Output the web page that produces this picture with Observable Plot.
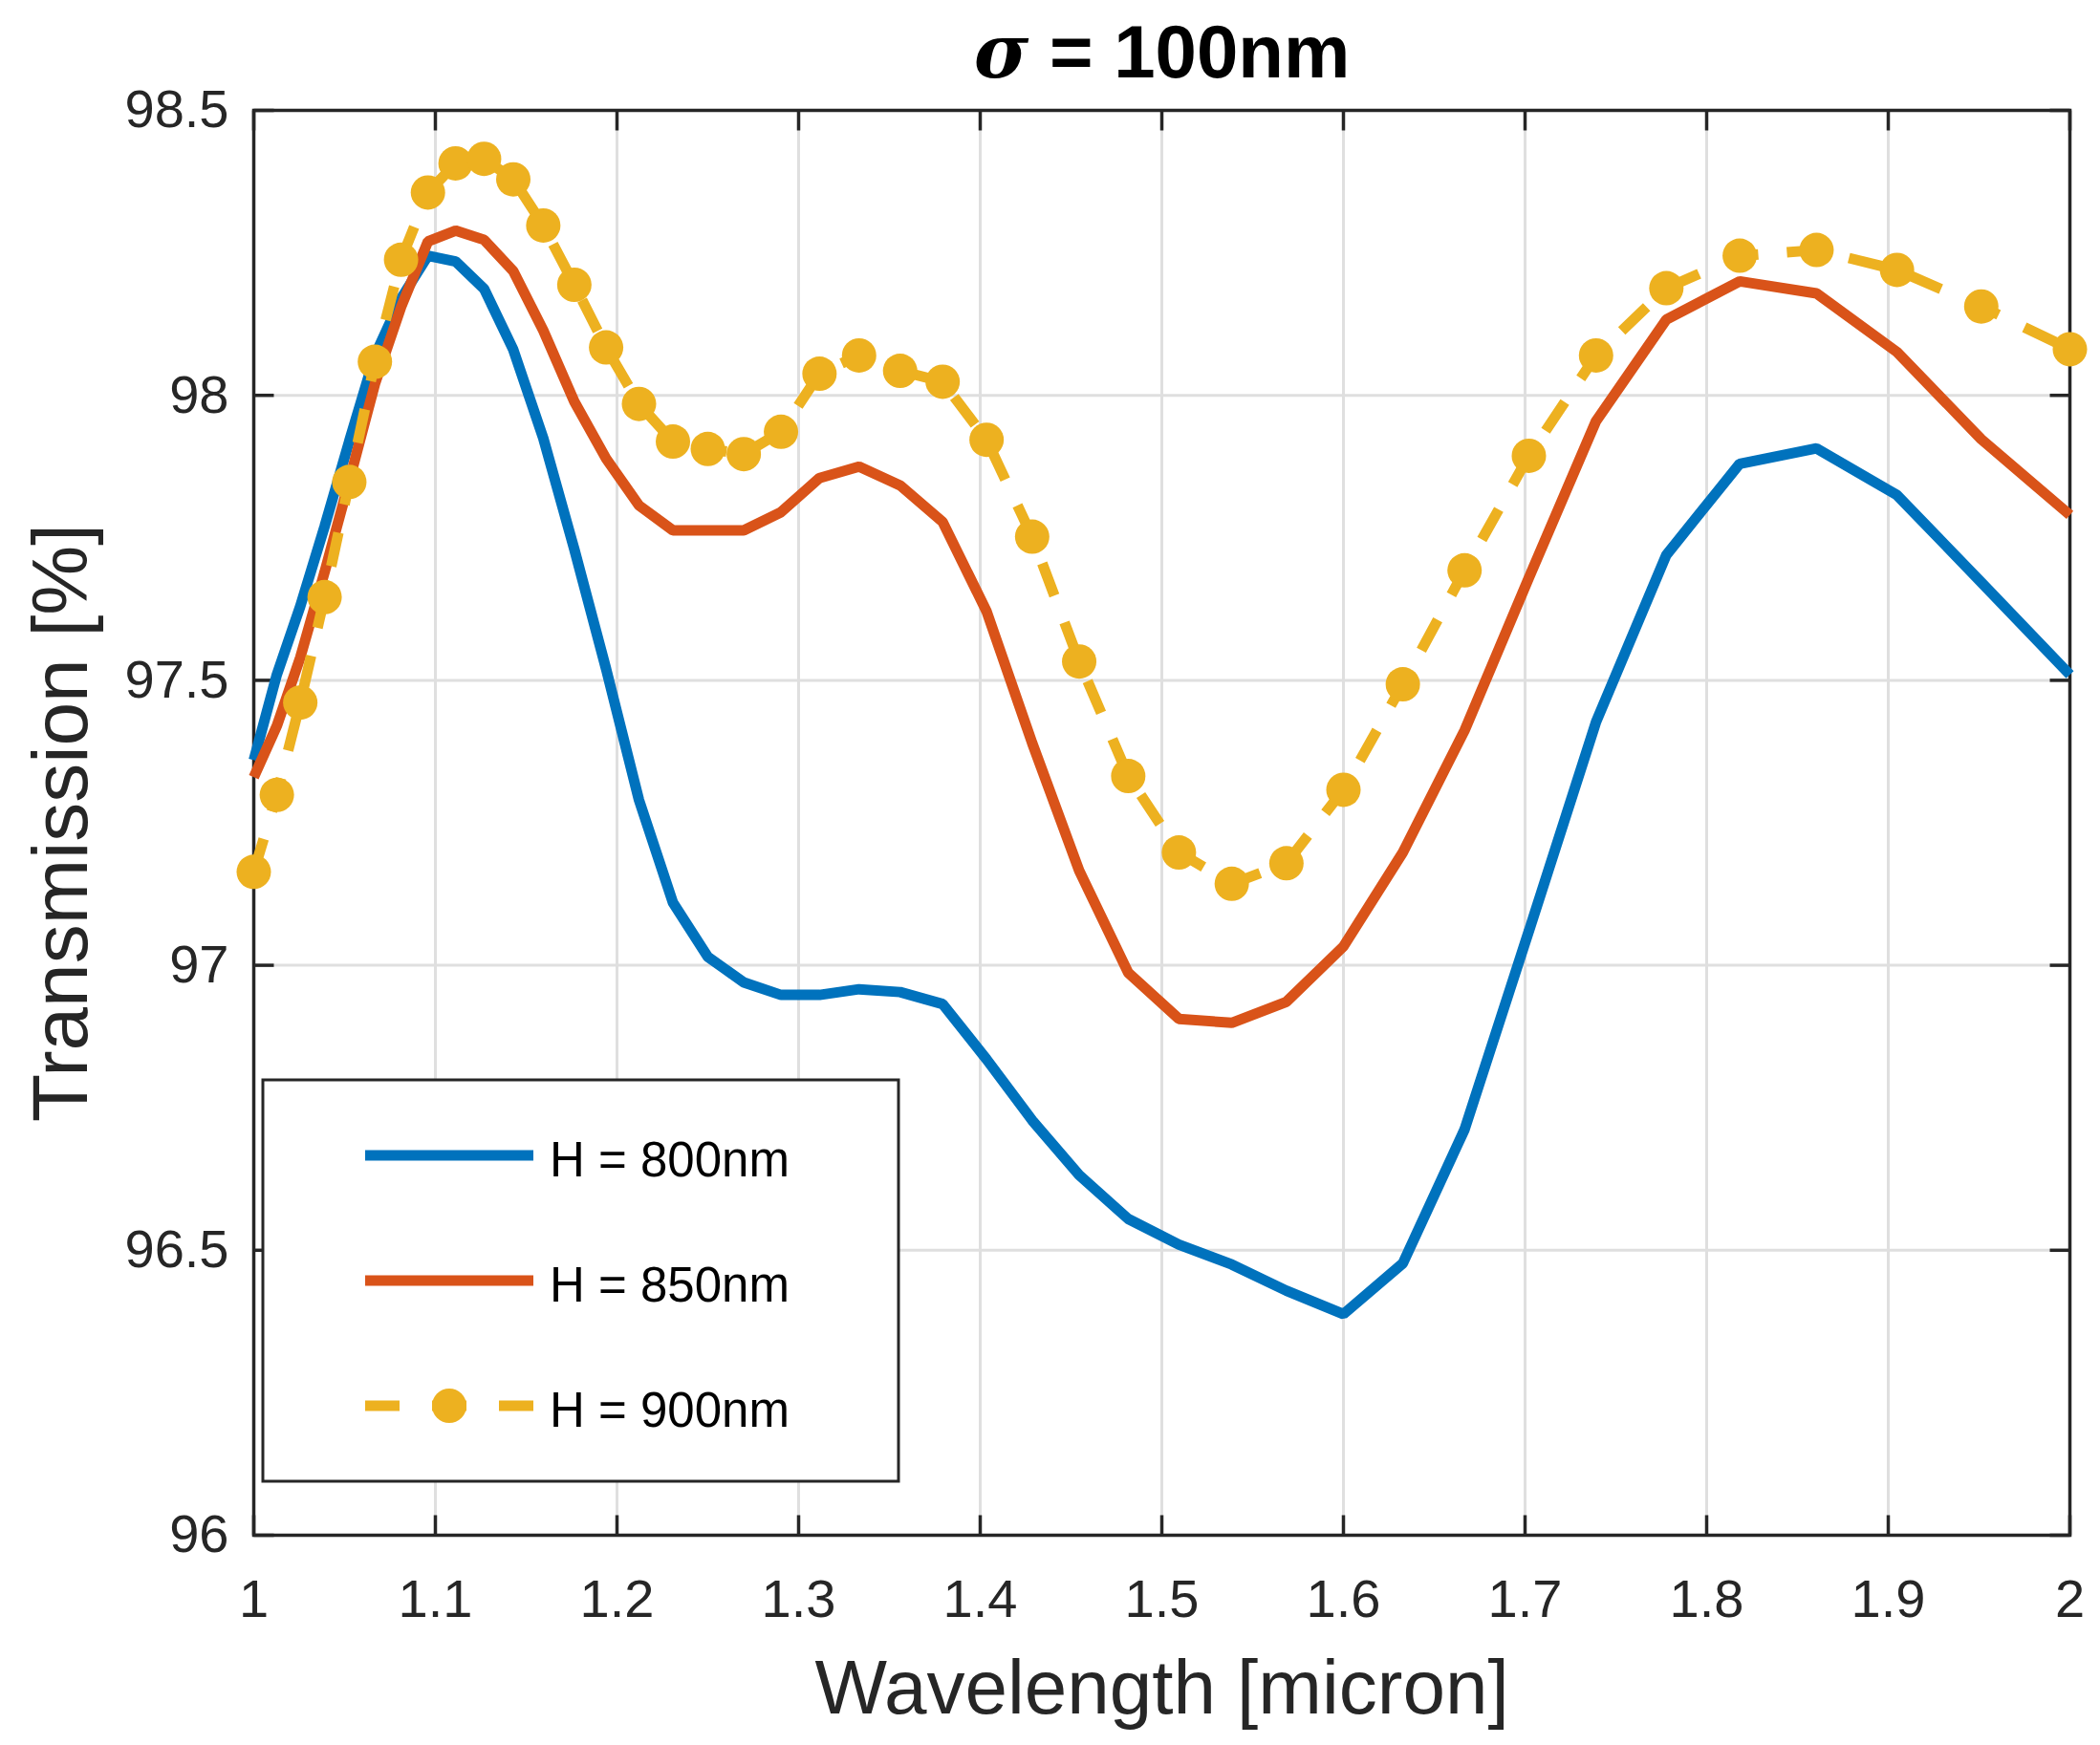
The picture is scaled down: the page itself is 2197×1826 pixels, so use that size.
<!DOCTYPE html>
<html>
<head>
<meta charset="utf-8">
<script src="https://cdn.jsdelivr.net/npm/d3@7"></script>
<script src="https://cdn.jsdelivr.net/npm/@observablehq/plot@0.6"></script>
<style>
  html, body { margin: 0; padding: 0; background: #fff; }
  #chart { width: 2197px; height: 1826px; }
</style>
</head>
<body>
<div id="chart"></div>
<script>
// ---- data ----
const wavelength = [1.0000, 1.0127, 1.0256, 1.0390, 1.0526, 1.0667, 1.0811, 1.0959, 1.1111, 1.1268,
  1.1429, 1.1594, 1.1765, 1.1940, 1.2121, 1.2308, 1.2500, 1.2698, 1.2903, 1.3115,
  1.3333, 1.3559, 1.3793, 1.4035, 1.4286, 1.4545, 1.4815, 1.5094, 1.5385, 1.5686,
  1.6000, 1.6327, 1.6667, 1.7021, 1.7391, 1.7778, 1.8182, 1.8605, 1.9048, 1.9512, 2.0000];

const h800 = [97.36, 97.51, 97.63, 97.77, 97.92, 98.07, 98.17, 98.245, 98.235, 98.187,
  98.08, 97.925, 97.73, 97.52, 97.29, 97.11, 97.015, 96.97, 96.948, 96.948,
  96.958, 96.953, 96.932, 96.835, 96.728, 96.632, 96.555, 96.51, 96.475, 96.429,
  96.388, 96.477, 96.712, 97.06, 97.427, 97.72, 97.88, 97.907, 97.825, 97.672, 97.51];

const h850 = [97.33, 97.42, 97.54, 97.69, 97.85, 98.02, 98.155, 98.27, 98.289, 98.273,
  98.218, 98.114, 97.989, 97.889, 97.807, 97.763, 97.763, 97.763, 97.795, 97.855,
  97.875, 97.842, 97.778, 97.621, 97.39, 97.166, 96.987, 96.906, 96.899, 96.936,
  97.033, 97.198, 97.412, 97.68, 97.955, 98.133, 98.2, 98.179, 98.076, 97.923, 97.79];

const h900 = [97.164, 97.299, 97.461, 97.646, 97.848, 98.059, 98.238, 98.356, 98.407, 98.415,
  98.379, 98.298, 98.194, 98.084, 97.985, 97.919, 97.906, 97.897, 97.936, 98.038,
  98.07, 98.043, 98.024, 97.922, 97.752, 97.533, 97.332, 97.198, 97.143, 97.179,
  97.308, 97.493, 97.693, 97.894, 98.07, 98.188, 98.245, 98.255, 98.22, 98.156, 98.081];

const seriesNames = ["H = 800nm", "H = 850nm", "H = 900nm"];
const seriesColors = ["#0072BD", "#D95319", "#EDB120"];

const xTicks = [1, 1.1, 1.2, 1.3, 1.4, 1.5, 1.6, 1.7, 1.8, 1.9, 2];
const xTickLabels = ["1", "1.1", "1.2", "1.3", "1.4", "1.5", "1.6", "1.7", "1.8", "1.9", "2"];
const yTicks = [96, 96.5, 97, 97.5, 98, 98.5];
const yTickLabels = ["96", "96.5", "97", "97.5", "98", "98.5"];

const titleText = "σ = 100nm";
const xLabelText = "Wavelength [micron]";
const yLabelText = "Transmission [%]";

// ---- build tables ----
const seriesValues = [h800, h850, h900];
const tables = seriesValues.map((vals, s) =>
  wavelength.map((w, i) => ({ w, t: vals[i], s: seriesNames[s] })));

const xFmt = new Map(xTicks.map((t, i) => [t, xTickLabels[i]]));
const yFmt = new Map(yTicks.map((t, i) => [t, yTickLabels[i]]));

const axisColor = "#262626";
const gridColor = "#dfdfdf";
const font = "'Liberation Sans', Arial, Helvetica, sans-serif";

// plain straight tick shape for inward ticks
const tickShape = { draw(context, l) { context.moveTo(0, 0); context.lineTo(0, -l); } };
const tickOpts = { length: 21, anchor: "start", shape: tickShape, stroke: axisColor, strokeWidth: 3.5, strokeLinecap: "butt" };

const plot = Plot.plot({
  width: 2197,
  height: 1826,
  marginLeft: 265,
  marginRight: 32,
  marginTop: 115,
  marginBottom: 220,
  style: { fontFamily: font, background: "#fff", color: axisColor, overflow: "visible" },
  x: { domain: [1, 2], label: null },
  y: { domain: [96, 98.5], label: null },
  marks: [
    Plot.gridX(xTicks, { stroke: gridColor, strokeOpacity: 1, strokeWidth: 3 }),
    Plot.gridY(yTicks, { stroke: gridColor, strokeOpacity: 1, strokeWidth: 3 }),
    Plot.frame({ stroke: axisColor, strokeWidth: 3.5 }),
    // inward ticks on all four sides
    Plot.vector(xTicks, { x: d => d, frameAnchor: "bottom", rotate: 0, ...tickOpts }),
    Plot.vector(xTicks, { x: d => d, frameAnchor: "top", rotate: 180, ...tickOpts }),
    Plot.vector(yTicks, { y: d => d, frameAnchor: "left", rotate: 90, ...tickOpts }),
    Plot.vector(yTicks, { y: d => d, frameAnchor: "right", rotate: -90, ...tickOpts }),
    Plot.axisX(xTicks, { tickSize: 0, tickPadding: 46, fontSize: 56, fill: axisColor, tickFormat: d => xFmt.get(d), label: null }),
    Plot.axisY(yTicks, { tickSize: 0, tickPadding: 26, fontSize: 56, fill: axisColor, tickFormat: d => yFmt.get(d), label: null }),
    // data
    Plot.line(tables[0], { x: "w", y: "t", stroke: seriesColors[0], strokeWidth: 11, strokeLinejoin: "miter", strokeLinecap: "butt" }),
    Plot.line(tables[1], { x: "w", y: "t", stroke: seriesColors[1], strokeWidth: 11, strokeLinejoin: "miter", strokeLinecap: "butt" }),
    Plot.line(tables[2], { x: "w", y: "t", stroke: seriesColors[2], strokeWidth: 11, strokeDasharray: "36,30", strokeLinejoin: "miter", strokeLinecap: "butt" }),
    Plot.dot(tables[2], { x: "w", y: "t", r: 18, fill: seriesColors[2], stroke: "none" }),
    // texts
    Plot.text([titleText], { frameAnchor: "top", textAnchor: "middle", lineAnchor: "bottom", dy: -35, fontSize: 78, fontWeight: "bold", fill: "#000" }),
    Plot.text([xLabelText], { frameAnchor: "bottom", textAnchor: "middle", lineAnchor: "top", dy: 130, fontSize: 80, fill: axisColor }),
    Plot.text([yLabelText], { frameAnchor: "left", textAnchor: "middle", lineAnchor: "bottom", rotate: -90, dx: -175, fontSize: 82, fill: axisColor })
  ]
});

document.getElementById("chart").appendChild(plot);

// italic sigma in the title
const svg = d3.select(plot);
svg.selectAll("text").filter(function () { return this.textContent === titleText; })
  .each(function () {
    const el = d3.select(this);
    el.text(null);
    el.append("tspan").attr("font-style", "italic").attr("font-family", "'DejaVu Serif', 'Liberation Serif', serif").text("σ");
    el.append("tspan").text(" = 100nm");
  });

// legend
const lg = svg.append("g").attr("font-family", font).attr("text-anchor", "start");
lg.append("rect").attr("x", 275).attr("y", 1130).attr("width", 665).attr("height", 420)
  .attr("fill", "#fff").attr("stroke", axisColor).attr("stroke-width", 3);
const rowY = [1209, 1340, 1471];
seriesNames.forEach((name, i) => {
  const y = rowY[i];
  const line = lg.append("line").attr("x1", 382).attr("x2", 558).attr("y1", y).attr("y2", y)
    .attr("stroke", seriesColors[i]).attr("stroke-width", 11).attr("stroke-linecap", "butt");
  if (i === 2) {
    line.attr("stroke-dasharray", "36,34");
    lg.append("circle").attr("cx", 470).attr("cy", y).attr("r", 18).attr("fill", seriesColors[i]).attr("stroke", "none");
  }
  lg.append("text").attr("x", 575).attr("y", y + 22).attr("font-size", 51).attr("fill", "#000")
    .attr("text-anchor", "start").text(name);
});
</script>
</body>
</html>
